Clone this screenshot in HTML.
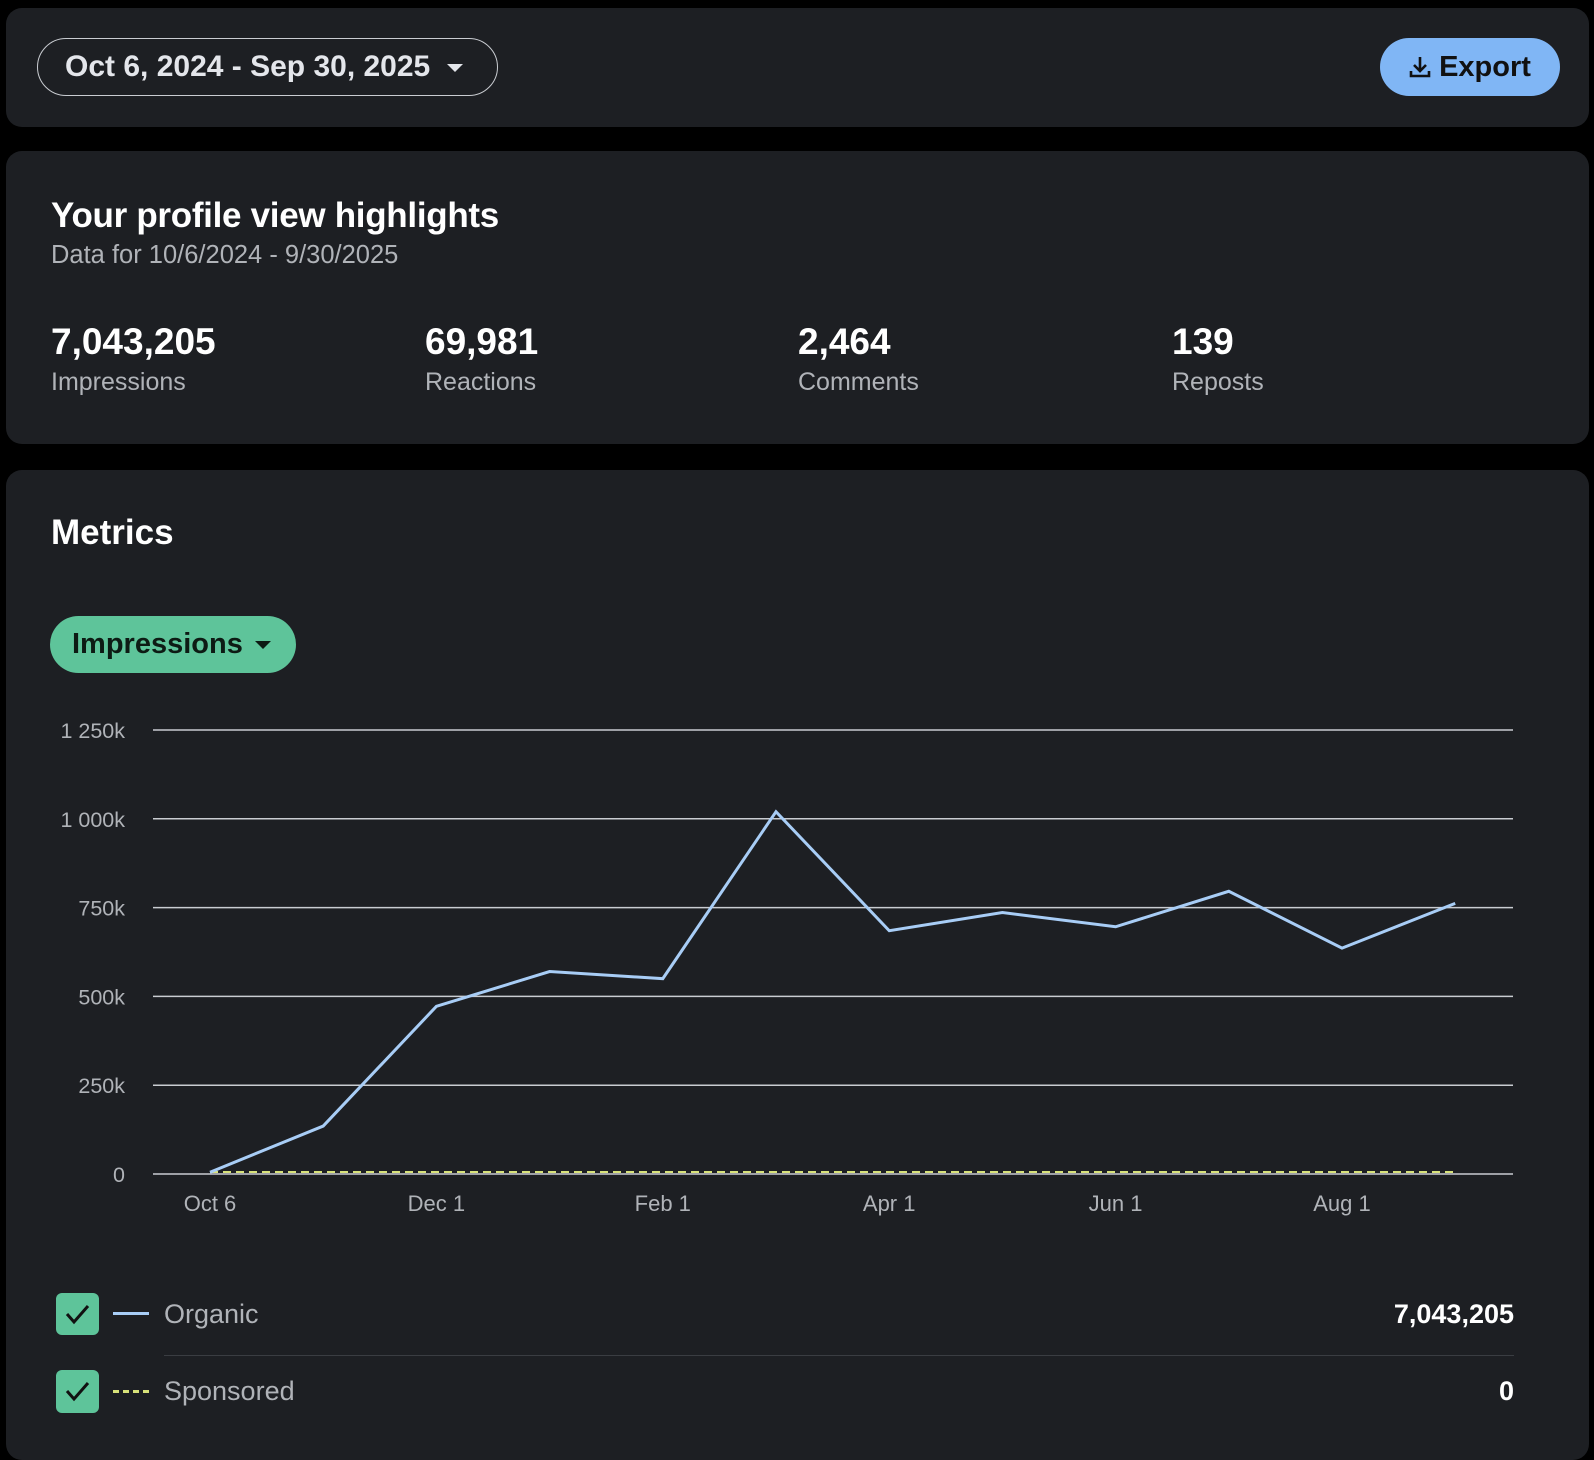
<!DOCTYPE html>
<html><head><meta charset="utf-8"><style>
body{margin:0;width:1594px;height:1438px;background:#000;font-family:"Liberation Sans",sans-serif;overflow:hidden;position:relative}
.panel{position:absolute;left:6px;width:1583px;background:#1d1f23;border-radius:16px}
.abs{position:absolute;white-space:nowrap}
.g{color:#b0b3b8}
.w{color:#fff}
</style></head><body>
<div class="panel" style="top:8px;height:119px"></div>
<div class="abs w" style="left:37px;top:38px;width:461px;height:58px;border:1.5px solid #c9ccd1;border-radius:30px;box-sizing:border-box;font-size:30px;font-weight:bold;line-height:56px;padding-left:27px;color:#e4e6eb">Oct 6, 2024 - Sep 30, 2025 <span style="display:inline-block;width:0;height:0;border-left:8px solid transparent;border-right:8px solid transparent;border-top:8px solid #e4e6eb;vertical-align:middle;margin-left:8px"></span></div>
<div class="abs" style="left:1380px;top:38px;width:180px;height:58px;background:#80b6f5;border-radius:30px;font-size:29px;font-weight:bold;line-height:58px;color:#111;text-align:center">
<svg width="22" height="24" viewBox="0 0 22 24" style="vertical-align:-3px;margin-right:8px"><path d="M11 2v13M5 10l6 6 6-6M2 16v5h18v-5" fill="none" stroke="#111" stroke-width="2.6"/></svg>Export</div>

<div class="panel" style="top:151px;height:293px"></div>
<div class="abs w" style="left:51px;top:196px;font-size:35px;font-weight:bold;letter-spacing:-0.3px">Your profile view highlights</div>
<div class="abs g" style="left:51px;top:241px;font-size:25.5px">Data for 10/6/2024 - 9/30/2025</div>
<div class="abs w" style="left:51px;top:321px;font-size:37px;font-weight:bold">7,043,205</div>
<div class="abs g" style="left:51px;top:368px;font-size:25px">Impressions</div>
<div class="abs w" style="left:425px;top:321px;font-size:37px;font-weight:bold">69,981</div>
<div class="abs g" style="left:425px;top:368px;font-size:25px">Reactions</div>
<div class="abs w" style="left:798px;top:321px;font-size:37px;font-weight:bold">2,464</div>
<div class="abs g" style="left:798px;top:368px;font-size:25px">Comments</div>
<div class="abs w" style="left:1172px;top:321px;font-size:37px;font-weight:bold">139</div>
<div class="abs g" style="left:1172px;top:368px;font-size:25px">Reposts</div>

<div class="panel" style="top:470px;height:990px"></div>
<div class="abs w" style="left:51px;top:513px;font-size:35px;font-weight:bold">Metrics</div>
<div class="abs" style="left:50px;top:616px;width:246px;height:57px;background:#5ec49a;border-radius:30px;font-size:29px;font-weight:bold;line-height:57px;padding-left:22px;box-sizing:border-box;color:#0d1b14">Impressions <span style="display:inline-block;width:0;height:0;border-left:8px solid transparent;border-right:8px solid transparent;border-top:8px solid #0d1b14;vertical-align:middle;margin-left:4px"></span></div>

<svg id="chart" class="abs" style="left:0;top:0" width="1594" height="1260"></svg>

<div class="abs" style="left:56px;top:1293px;width:43px;height:42px;background:#5ec49a;border-radius:6px"><svg width="43" height="42"><path d="M11 21l7 8 14-16" fill="none" stroke="#111" stroke-width="3"/></svg></div>
<div class="abs" style="left:113px;top:1312px;width:36px;height:3px;background:#a8cdf6"></div>
<div class="abs g" style="left:164px;top:1299px;font-size:27px">Organic</div>
<div class="abs w" style="right:80px;top:1299px;font-size:27px;font-weight:bold">7,043,205</div>
<div class="abs" style="left:164px;top:1355px;width:1350px;height:1px;background:#3a3d42"></div>
<div class="abs" style="left:56px;top:1370px;width:43px;height:43px;background:#5ec49a;border-radius:6px"><svg width="43" height="43"><path d="M11 21l7 8 14-16" fill="none" stroke="#111" stroke-width="3"/></svg></div>
<div class="abs" style="left:113px;top:1390px;width:36px;height:0;border-top:3px dashed #d8e27a"></div>
<div class="abs g" style="left:164px;top:1376px;font-size:27px">Sponsored</div>
<div class="abs w" style="right:80px;top:1376px;font-size:27px;font-weight:bold">0</div>

<script>
const yTicks=[0,250000,500000,750000,1000000,1250000];
const yTickLabels=["0","250k","500k","750k","1 000k","1 250k"];
const xTickLabels=["Oct 6","Dec 1","Feb 1","Apr 1","Jun 1","Aug 1"];
const xTickIndex=[0,2,4,6,8,10];
const organic=[5000,135000,472000,570000,550000,1020000,685000,736000,696000,796000,636000,762000];
const sponsored=[0,0,0,0,0,0,0,0,0,0,0,0];
const NS="http://www.w3.org/2000/svg";
const svg=document.getElementById('chart');
const x0=153,x1=1513,y0=1174,y1=730,yMax=1250000;
const px0=210,pstep=113.2;
function xs(i){return px0+i*pstep;}
function ys(v){return y0-(v/yMax)*(y0-y1);}
function mk(t,a){const e=document.createElementNS(NS,t);for(const k in a)e.setAttribute(k,a[k]);svg.appendChild(e);return e;}
yTicks.forEach((v,i)=>{
 const l=mk('line',{x1:x0,x2:x1,y1:ys(v),y2:ys(v),stroke:'#c9ccd1','stroke-width':1.5});
 
 
 const t=mk('text',{x:125,y:ys(v)+8,'text-anchor':'end',fill:'#b0b3b8','font-size':21.5,'font-family':'Liberation Sans, sans-serif'});
 t.textContent=yTickLabels[i];
 
 
});
xTickLabels.forEach((s,i)=>{
 const t=mk('text',{x:xs(xTickIndex[i]),y:1211,'text-anchor':'middle',fill:'#b0b3b8','font-size':22,'font-family':'Liberation Sans, sans-serif'});
 t.textContent=s;
 
 
});
const sp=mk('polyline',{points:sponsored.map((v,i)=>xs(i)+','+(ys(v)-2)).join(' '),fill:'none',stroke:'#d8e27a','stroke-width':2,'stroke-dasharray':'8 5'});


const og=mk('polyline',{points:organic.map((v,i)=>xs(i)+','+ys(v)).join(' '),fill:'none',stroke:'#a8cdf6','stroke-width':3,'stroke-linejoin':'miter'});


</script>
</body></html>
